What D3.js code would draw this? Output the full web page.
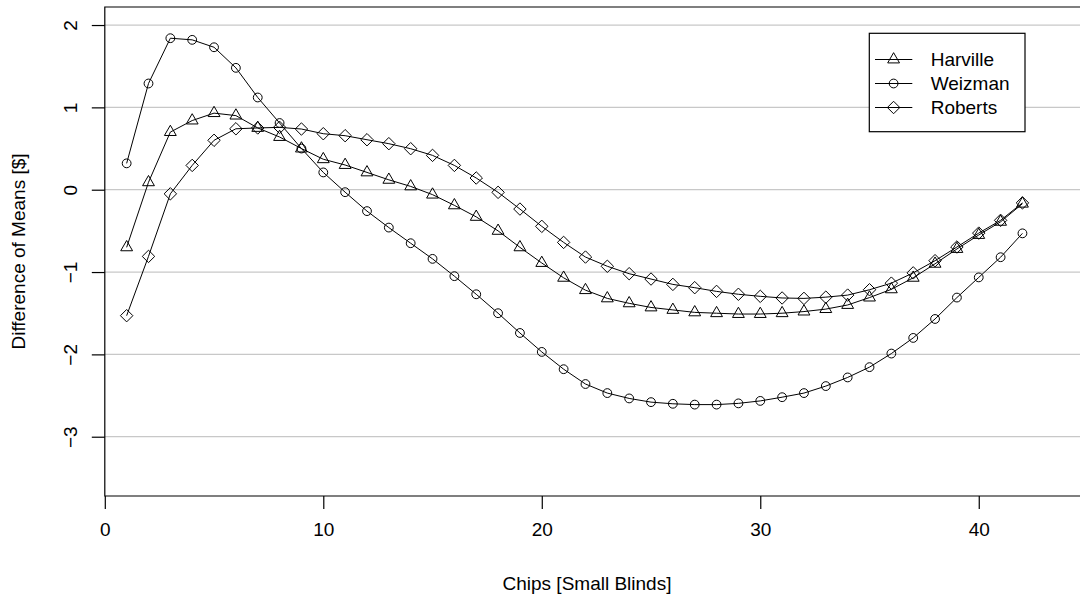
<!DOCTYPE html>
<html lang="en">
<head>
    <meta charset="UTF-8">
    <title>Difference of Means</title>
    <script src="https://cdn.jsdelivr.net/npm/d3@7"></script>
    <style>
        body {
            margin: 0;
            background: #ffffff;
        }
        svg text {
            font-family: "Liberation Sans", Arial, Helvetica, sans-serif;
            font-size: 19px;
            fill: #000;
        }
    </style>
</head>
<body>
    <div id="chart"></div>
    <script>
        //Chips vs difference of means for three models

        const chips = d3.range(1, 43);

        const harville = [
            -0.70, 0.09, 0.70, 0.84, 0.93, 0.90, 0.75, 0.64, 0.50, 0.37,
            0.30, 0.21, 0.12, 0.04, -0.06, -0.19, -0.33, -0.50, -0.70, -0.89,
            -1.07, -1.22, -1.32, -1.38, -1.43, -1.46, -1.49, -1.50, -1.51, -1.51,
            -1.50, -1.48, -1.45, -1.40, -1.31, -1.21, -1.07, -0.90, -0.72, -0.55,
            -0.39, -0.17
        ];
        const weizman = [
            0.32, 1.29, 1.84, 1.82, 1.73, 1.48, 1.12, 0.81, 0.50, 0.21,
            -0.03, -0.26, -0.46, -0.65, -0.84, -1.05, -1.27, -1.50, -1.74, -1.97,
            -2.18, -2.36, -2.47, -2.535, -2.58, -2.60, -2.61, -2.61, -2.595, -2.565,
            -2.52, -2.47, -2.385, -2.28, -2.155, -1.99, -1.80, -1.57, -1.31, -1.065,
            -0.82, -0.53
        ];
        const roberts = [
            -1.53, -0.81, -0.05, 0.295, 0.60, 0.74, 0.75, 0.757, 0.737, 0.68,
            0.656, 0.607, 0.559, 0.498, 0.417, 0.295, 0.142, -0.032, -0.235, -0.445,
            -0.64, -0.818, -0.93, -1.02, -1.085, -1.15, -1.19, -1.235, -1.27, -1.295,
            -1.315, -1.32, -1.305, -1.28, -1.215, -1.135, -1.01, -0.862, -0.696, -0.527,
            -0.372, -0.16
        ];

        const seriesNames = ["Harville", "Weizman", "Roberts"];
        const seriesShapes = ["triangle", "circle", "diamond"];
        const xTicks = [0, 10, 20, 30, 40];
        const yTicks = [-3, -2, -1, 0, 1, 2];

        const width = 1080;
        const height = 599;
        const plot = {left: 104.8, top: 7, bottom: 496, right: 1088};

        const svg = d3.select("#chart")
            .append("svg")
            .attr("width", width)
            .attr("height", height);

        let x = d3.scaleLinear()
            .domain([0, 45])
            .range([plot.left, plot.right]);

        let y = d3.scaleLinear()
            .domain([-3.72, 2.219])
            .range([plot.bottom, plot.top]);

        //grid lines
        svg.append("g")
            .selectAll("line")
            .data(yTicks)
            .enter()
            .append("line")
            .attr("x1", plot.left)
            .attr("x2", width)
            .attr("y1", d => y(d))
            .attr("y2", d => y(d))
            .attr("stroke", "#c8c8c8")
            .attr("stroke-width", 1.2);

        // markers, sizes like R pch 1, 2, 5
        const rad = 4.4;
        function marker(shape) {
            const p = d3.path();
            if (shape === "triangle") {
                const r = 1.5551 * rad, xc = 1.3468 * rad;
                p.moveTo(0, -r);
                p.lineTo(xc, r / 2);
                p.lineTo(-xc, r / 2);
                p.closePath();
            } else {
                const d = Math.SQRT2 * rad;
                p.moveTo(0, -d);
                p.lineTo(d, 0);
                p.lineTo(0, d);
                p.lineTo(-d, 0);
                p.closePath();
            }
            return p.toString();
        }

        function drawMarker(g, shape, cx, cy) {
            if (shape === "circle") {
                g.append("circle")
                    .attr("cx", cx)
                    .attr("cy", cy)
                    .attr("r", rad)
                    .attr("fill", "none")
                    .attr("stroke", "#000")
                    .attr("stroke-width", 1);
            } else {
                g.append("path")
                    .attr("d", marker(shape))
                    .attr("transform", `translate(${cx},${cy})`)
                    .attr("fill", "none")
                    .attr("stroke", "#000")
                    .attr("stroke-width", 1);
            }
        }

        const allSeries = [harville, weizman, roberts];
        const line = d3.line()
            .x((d, i) => x(chips[i]))
            .y(d => y(d));

        allSeries.forEach((values, k) => {
            const g = svg.append("g");
            g.append("path")
                .attr("d", line(values))
                .attr("fill", "none")
                .attr("stroke", "#000")
                .attr("stroke-width", 1);
            values.forEach((v, i) => drawMarker(g, seriesShapes[k], x(chips[i]), y(v)));
        });

        //box (right side falls off the picture)
        svg.append("path")
            .attr("d", `M${width},${plot.top}H${plot.left}V${plot.bottom}H${width}`)
            .attr("fill", "none")
            .attr("stroke", "#000")
            .attr("stroke-width", 1.2);

        // X Axis
        const xAxis = svg.append("g")
            .attr("transform", `translate(0,${plot.bottom})`)
            .call(d3.axisBottom(x).tickValues(xTicks).tickFormat(d3.format("d")).tickSize(13).tickSizeOuter(0));
        xAxis.select(".domain").remove();
        xAxis.selectAll("line").attr("stroke-width", 1.2);
        xAxis.selectAll("text")
            .attr("y", 40)
            .attr("dy", 0);

        // Y Axis, labels turned like R
        const yAxis = svg.append("g")
            .attr("transform", `translate(${plot.left},0)`)
            .call(d3.axisLeft(y).tickValues(yTicks).tickFormat(d3.format("d")).tickSize(13).tickSizeOuter(0));
        yAxis.select(".domain").remove();
        yAxis.selectAll("line").attr("stroke-width", 1.2);
        yAxis.selectAll("text")
            .attr("x", 0)
            .attr("dy", 0)
            .attr("text-anchor", "middle")
            .attr("transform", "translate(-28,0) rotate(-90)");

        //axis titles
        svg.append("text")
            .attr("x", 587)
            .attr("y", 590)
            .attr("text-anchor", "middle")
            .text("Chips [Small Blinds]");

        svg.append("text")
            .attr("transform", "translate(25,251.5) rotate(-90)")
            .attr("text-anchor", "middle")
            .text("Difference of Means [$]");

        //legend
        const legend = svg.append("g");
        legend.append("rect")
            .attr("x", 869.3)
            .attr("y", 33.3)
            .attr("width", 155.7)
            .attr("height", 98.4)
            .attr("fill", "#fff")
            .attr("stroke", "#000")
            .attr("stroke-width", 1.2);

        seriesNames.forEach((name, k) => {
            const ly = 59.5 + k * 24;
            legend.append("line")
                .attr("x1", 875)
                .attr("x2", 912.3)
                .attr("y1", ly)
                .attr("y2", ly)
                .attr("stroke", "#000");
            drawMarker(legend, seriesShapes[k], 893.6, ly);
            legend.append("text")
                .attr("x", 930.7)
                .attr("y", ly + 6.8)
                .text(name);
        });
    </script>
</body>
</html>
